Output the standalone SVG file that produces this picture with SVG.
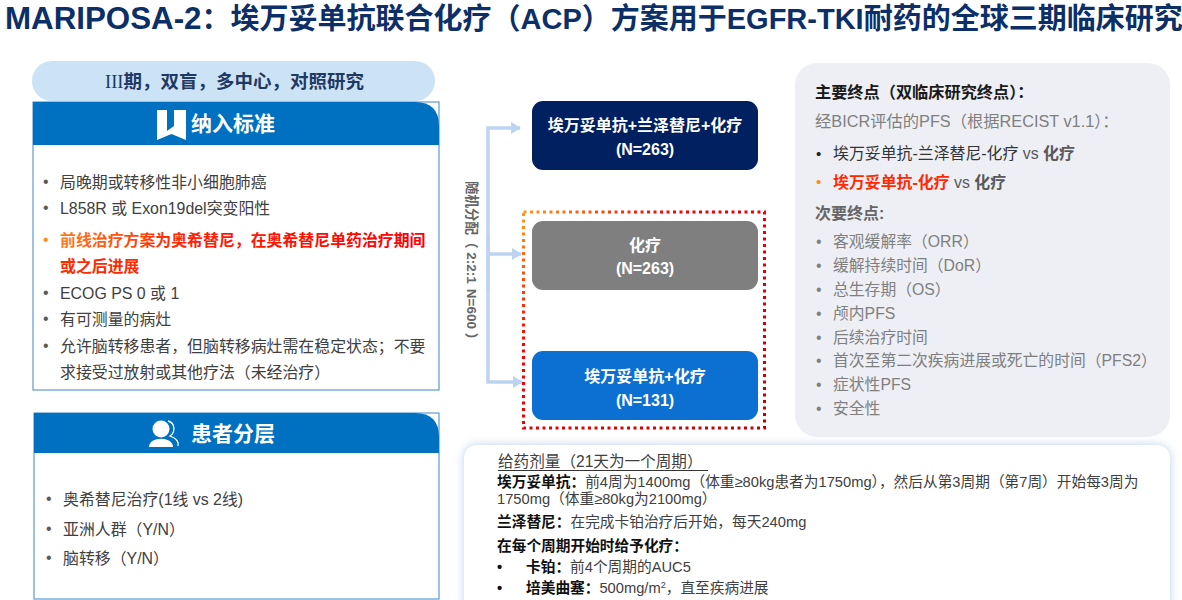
<svg xmlns="http://www.w3.org/2000/svg" width="1182" height="600" viewBox="0 0 1182 600">
<defs>
<style>
text{font-family:"Liberation Sans","Noto Sans CJK SC",sans-serif}
.h{fill:#0070c0}
.box{fill:#fff;stroke:#5b9bd5;stroke-width:1.2}
.hd{font-size:21px;font-weight:700;fill:#fff}
.l{font-size:15.900px;fill:#404040}
.b{font-weight:700}
.arm{font-size:16px;font-weight:700;fill:#fff;text-anchor:middle}
.e{font-size:15.800px;fill:#7f7f7f}
.d{font-size:14.700px;fill:#404040}
.db{font-size:14.700px;font-weight:700;fill:#111}
.conn{fill:none;stroke:#bdd3f2;stroke-width:3.5}
</style>
<linearGradient id="tx" x1="0" x2="1" y1="0" y2="0"><stop offset="0" stop-color="#ff7a1a"/><stop offset=".35" stop-color="#ff2000"/><stop offset="1" stop-color="#ff0000"/></linearGradient>
<linearGradient id="dash" x1="0" x2="1" y1="0" y2="1"><stop offset="0" stop-color="#ff9a1a"/><stop offset=".3" stop-color="#ff0000"/><stop offset="1" stop-color="#c00000"/></linearGradient>
<filter id="glow" x="-5%" y="-15%" width="110%" height="130%"><feGaussianBlur stdDeviation="5"/></filter>
<marker id="ah" markerUnits="userSpaceOnUse" markerWidth="12" markerHeight="12" refX="9" refY="6" orient="auto"><path d="M0 0L10 6L0 12Z" fill="#bdd3f2"/></marker>
</defs>
<rect width="1182" height="600" fill="#fff"/>
<text x="5" y="29" font-size="29" font-weight="700" fill="#0b2f66" id="title"><tspan font-size="31.300">MARIPOSA-2</tspan>：埃万妥单抗联合化疗（ACP）方案用于EGFR-TKI耐药的全球三期临床研究</text>

<g id="design">
<rect x="32" y="61" width="403" height="40" rx="20" fill="#cce2f5"/>
<text x="105" y="88" font-size="18.500" font-weight="700" fill="#1f3864"><tspan font-family="Liberation Serif" font-weight="400">III</tspan>期，双盲，多中心，对照研究</text>
</g>

<g id="inclusion">
<rect class="box" x="33" y="102" width="406" height="288"/>
<path class="h" d="M33 102H415Q439 102 439 126V145H33Z"/>
<path d="M157 110H167V131L174 126V110H186V140L171.500 134L157 140Z" fill="#fff"/>
<text class="hd" x="191" y="131">纳入标准</text>
<g class="l">
<text x="43" y="187" fill="#595959">•</text><text x="60" y="188">局晚期或转移性非小细胞肺癌</text>
<text x="43" y="213" fill="#595959">•</text><text x="60" y="214">L858R 或 Exon19del突变阳性</text>
<text x="43" y="245" fill="#ff8c1a">•</text><text x="60" y="246" class="b" fill="url(#tx)">前线治疗方案为奥希替尼，在奥希替尼单药治疗期间</text>
<text x="60" y="272" class="b" fill="#ff2a00">或之后进展</text>
<text x="43" y="298" fill="#595959">•</text><text x="60" y="299">ECOG PS 0 或 1</text>
<text x="43" y="324" fill="#595959">•</text><text x="60" y="325">有可测量的病灶</text>
<text x="43" y="351" fill="#595959">•</text><text x="60" y="352">允许脑转移患者，但脑转移病灶需在稳定状态；不要</text>
<text x="60" y="378">求接受过放射或其他疗法（未经治疗）</text>
</g>
</g>

<g id="strata">
<rect class="box" x="34" y="413" width="405" height="186"/>
<path class="h" d="M34 413H415Q439 413 439 437V453H34Z"/>
<circle cx="161" cy="429" r="8.500" fill="#fff"/>
<path d="M149 447C149 436 173 436 173 447Z" fill="#fff"/>
<path d="M168 421C176 423 175 433 170 436C176 438 179 441 178 446" fill="none" stroke="#fff" stroke-width="1.300"/>
<text class="hd" x="191" y="441">患者分层</text>
<g class="l">
<text x="46" y="504" fill="#595959">•</text><text x="63" y="505">奥希替尼治疗(1线 vs 2线)</text>
<text x="46" y="534" fill="#595959">•</text><text x="63" y="535">亚洲人群（Y/N）</text>
<text x="46" y="563" fill="#595959">•</text><text x="63" y="564">脑转移（Y/N）</text>
</g>
</g>

<g id="connectors">
<path class="conn" d="M488 290V128H520" marker-end="url(#ah)"/>
<path class="conn" d="M488 254H521" marker-end="url(#ah)"/>
<path class="conn" d="M488 236V382H522" marker-end="url(#ah)"/>
</g>
<text id="alloc" transform="translate(467 181) rotate(90)" font-size="13.500" font-weight="700" fill="#666">随机分配（ 2:2:1<tspan dx="5">N=600 ）</tspan></text>

<rect id="highlight" x="523.500" y="212" width="241" height="216" fill="none" stroke="url(#dash)" stroke-width="3" stroke-dasharray="3 3.500"/>

<g id="arm1"><rect x="532" y="101" width="226" height="69" rx="11" fill="#002060"/>
<text class="arm" x="645" y="131">埃万妥单抗+兰泽替尼+化疗</text><text class="arm" x="645" y="155">(N=263)</text></g>
<g id="arm2"><rect x="532" y="221" width="226" height="69" rx="11" fill="#7f7f7f"/>
<text class="arm" x="645" y="251">化疗</text><text class="arm" x="645" y="274">(N=263)</text></g>
<g id="arm3"><rect x="532" y="351" width="226" height="69" rx="11" fill="#0b70d2"/>
<text class="arm" x="645" y="382">埃万妥单抗+化疗</text><text class="arm" x="645" y="406">(N=131)</text></g>

<g id="endpoints">
<rect x="795" y="63" width="375" height="374" rx="22" fill="#edeff5"/>
<text x="815" y="98" font-size="16.200" font-weight="700" fill="#1a1a1a">主要终点（双临床研究终点）：</text>
<text x="815" y="127" font-size="16.300" fill="#7f7f7f">经BICR评估的PFS（根据RECIST v1.1）：</text>
<text x="816" y="159" font-size="15" fill="#222">•</text>
<text x="833" y="159" font-size="15.900" fill="#333">埃万妥单抗-兰泽替尼-化疗 <tspan fill="#595959">vs</tspan> <tspan font-weight="700" fill="#595959">化疗</tspan></text>
<text x="816" y="187" font-size="15" fill="#ff8c1a">•</text>
<text x="833" y="188" font-size="15.900" font-weight="700" fill="#ff2a00">埃万妥单抗-化疗 <tspan fill="#595959" font-weight="400">vs</tspan> <tspan fill="#595959">化疗</tspan></text>
<text x="815" y="219" font-size="16" font-weight="700" fill="#666">次要终点:</text>
<g class="e">
<text x="816" y="247">•</text><text x="833" y="247">客观缓解率（ORR）</text>
<text x="816" y="271">•</text><text x="833" y="271">缓解持续时间（DoR）</text>
<text x="816" y="295">•</text><text x="833" y="295">总生存期（OS）</text>
<text x="816" y="319">•</text><text x="833" y="319">颅内PFS</text>
<text x="816" y="343">•</text><text x="833" y="343">后续治疗时间</text>
<text x="816" y="366">•</text><text x="833" y="366">首次至第二次疾病进展或死亡的时间（PFS2）</text>
<text x="816" y="390">•</text><text x="833" y="390">症状性PFS</text>
<text x="816" y="414">•</text><text x="833" y="414">安全性</text>
</g>
</g>

<g id="dosing">
<rect x="464" y="445" width="706" height="170" rx="13" fill="#bcd0ea" filter="url(#glow)"/>
<rect x="464" y="445" width="706" height="170" rx="13" fill="#fff"/>
<text x="498" y="467" font-size="15.600" fill="#404040">给药剂量（21天为一个周期）</text>
<path d="M498 470.500H708" stroke="#333" stroke-width="1"/>
<text x="497" y="487" class="db">埃万妥单抗：<tspan class="d" font-weight="400">前4周为1400mg（体重≥80kg患者为1750mg），然后从第3周期（第7周）开始每3周为</tspan></text>
<text x="497" y="504" class="d">1750mg（体重≥80kg为2100mg）</text>
<text x="497" y="527" class="db">兰泽替尼：<tspan class="d" font-weight="400">在完成卡铂治疗后开始，每天240mg</tspan></text>
<text x="497" y="551" class="db">在每个周期开始时给予化疗：</text>
<text x="497" y="572" class="db">•</text><text x="526" y="572" class="db">卡铂：<tspan class="d" font-weight="400">前4个周期的AUC5</tspan></text>
<text x="497" y="593" class="db">•</text><text x="526" y="593" class="db">培美曲塞：<tspan class="d" font-weight="400">500mg/m<tspan font-size="9" dy="-5">2</tspan><tspan dy="5">，直至疾病进展</tspan></tspan></text>
</g>
</svg>
